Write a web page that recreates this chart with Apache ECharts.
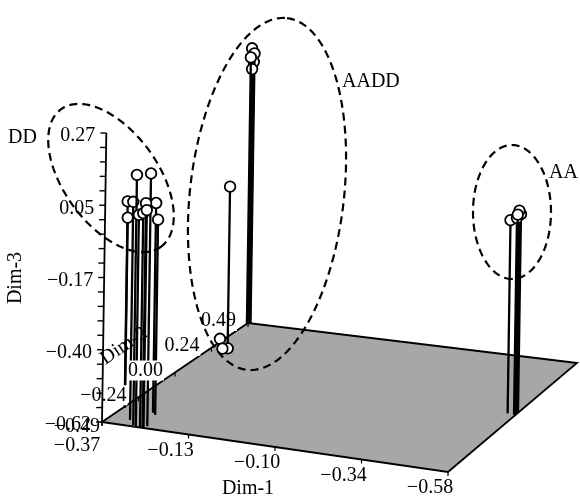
<!DOCTYPE html>
<html><head><meta charset="utf-8">
<script src="https://cdn.jsdelivr.net/npm/echarts@6/dist/echarts.min.js"></script>
<style>html,body{margin:0;padding:0;background:#fff}#c{width:580px;height:497px}</style>
</head><body><div id="c"></div>
<script>
// ---- data ----
const dim1Labels = ['−0.37','−0.13','−0.10','−0.34','−0.58'];
const dim2Labels = ['−0.49','−0.24','0.00','0.24','0.49'];
const dim3Labels = ['−0.62','−0.40','−0.17','0.05','0.27'];
const dim3Range = [-0.62, 0.27];
const groupNames = ['DD','AADD','AA'];
// each point: [Dim-1 (tick-index units), Dim-2 (tick-index units), Dim-3 value]
const ddPoints = [
  [0.00,0.62,0.012],
  [0.02,0.58,-0.034],
  [0.24,0.20,0.052],
  [0.34,0.05,0.150],
  [0.39,0.00,0.033],
  [0.44,0.00,0.040],
  [0.47,0.00,0.072],
  [0.48,0.00,0.051],
  [0.49,0.08,0.158],
  [0.36,0.55,0.026],
  [0.41,0.49,-0.019]
];
const aaddPoints = [
  [0.000,4.00,0.226],
  [0.035,3.99,0.212],
  [0.000,3.97,0.200],
  [0.023,4.00,0.185],
  [0.012,3.98,0.164],
  [0.12,3.17,-0.133],
  [0.00,3.23,-0.610],
  [0.17,2.91,-0.610],
  [0.22,2.94,-0.610]
];
const aaPoints = [
  [3.90,2.11,-0.025],
  [4.00,2.07,-0.001],
  [4.00,2.12,0.007],
  [4.00,2.17,-0.008],
  [3.98,2.10,-0.015]
];

// ---- layout / projection (scene units of a hidden cartesian) ----
const W = 580, H = 497;
const FONT = '20px "Liberation Serif", "Times New Roman", serif';
const corner = {A:[102,422], B:[448,472], C:[577,363], D:[248,323]};
const zSpan = 289, shear = 0.015;
const n1 = dim1Labels.length - 1, n2 = dim2Labels.length - 1;
function floorPt(d1, d2) {
  const u = d1 / n1, v = d2 / n2, A = corner.A, B = corner.B, C = corner.C, D = corner.D;
  return [A[0] + u*(B[0]-A[0]) + v*(D[0]-A[0]) + u*v*(C[0]-B[0]-D[0]+A[0]),
          A[1] + u*(B[1]-A[1]) + v*(D[1]-A[1]) + u*v*(C[1]-B[1]-D[1]+A[1])];
}
function heightOf(d3) { return (d3 - dim3Range[0]) / (dim3Range[1] - dim3Range[0]) * zSpan; }
function proj(d1, d2, d3) { const b = floorPt(d1, d2), h = heightOf(d3); return [b[0] + shear*h, b[1] - h]; }

const ellipses = [
  {cx:111, cy:178, a:85, b:47, rot:54},
  {cx:267, cy:194, a:177, b:77, rot:-83.5},
  {cx:512, cy:212, a:67, b:39, rot:90}
];
const groupLabelPos = [[8,138],[342,82],[549,173]];

function ellipsePts(e) {
  const pts = [], r = e.rot * Math.PI / 180;
  for (let k = 0; k < 160; k++) {
    const t = k / 160 * Math.PI * 2, x = e.a*Math.cos(t), y = e.b*Math.sin(t);
    pts.push([e.cx + x*Math.cos(r) - y*Math.sin(r), e.cy + x*Math.sin(r) + y*Math.cos(r)]);
  }
  return pts;
}
function txt(x, y, text, align, vAlign, extra) {
  return Object.assign({type:'text', x:x, y:y, style:{text:text, font:FONT, fill:'#000', align:align||'center', verticalAlign:vAlign||'middle'}}, extra||{});
}

const chart = echarts.init(document.getElementById('c'));

function axesRender(params, api) {
  const c = p => api.coord(p);
  const ch = [];
  const fp = [floorPt(0,0), floorPt(n1,0), floorPt(n1,n2), floorPt(0,n2)].map(c);
  ch.push({type:'polygon', shape:{points:fp}, style:{fill:'#a7a7a7', stroke:'#000', lineWidth:1.8}});
  dim1Labels.forEach((lab, i) => {
    const p = c(floorPt(i, 0));
    ch.push({type:'line', shape:{x1:p[0], y1:p[1], x2:p[0], y2:p[1]+4}, style:{stroke:'#000', lineWidth:1.2}});
    const off = i === 0 ? [-25, 24] : [-18, 16];
    ch.push(txt(p[0]+off[0], p[1]+off[1], lab));
  });
  dim2Labels.forEach((lab, i) => {
    const p = c(floorPt(0, i));
    ch.push({type:'line', shape:{x1:p[0], y1:p[1], x2:p[0], y2:p[1]+4}, style:{stroke:'#000', lineWidth:1.2}});
  });
  dim3Labels.forEach((lab, i) => {
    const v = dim3Range[0] + i * (dim3Range[1]-dim3Range[0]) / n1;
    const p = c(proj(0, 0, v));
    ch.push(txt(p[0]-11, p[1]+3, lab, 'right'));
  });
  ch.push(txt(248, 489, 'Dim-1'));
  ch.push(txt(16, 278, 'Dim-3', 'center', 'middle', {rotation: Math.PI/2}));
  ch.push(txt(124, 346, 'Dim-2', 'center', 'middle', {rotation: 0.59}));
  return {type:'group', children:ch};
}

function labelsRender(params, api) {
  const c = p => api.coord(p);
  const ch = [];
  dim2Labels.forEach((lab, i) => {
    const p = c(floorPt(0, i));
    if (i === 0) ch.push(txt(p[0]-2, p[1]+5, lab, 'right'));
    else {
      const t = txt(p[0]-11, p[1]-2, lab, 'right');
      t.style.backgroundColor = '#fff'; t.style.padding = [0,1];
      ch.push(t);
    }
  });
  const a0 = c(proj(0,0,dim3Range[0])), a1 = c(proj(0,0,dim3Range[1]));
  ch.push({type:'line', shape:{x1:a0[0], y1:a0[1], x2:a1[0], y2:a1[1]}, style:{stroke:'#000', lineWidth:1.8}});
  const nMinor = 5;
  for (let k = 0; k <= n1*nMinor; k++) {
    const v = dim3Range[0] + k * (dim3Range[1]-dim3Range[0]) / (n1*nMinor);
    const p = c(proj(0,0,v));
    ch.push({type:'line', shape:{x1:p[0]-6, y1:p[1], x2:p[0], y2:p[1]}, style:{stroke:'#000', lineWidth:1.4}});
  }
  return {type:'group', children:ch};
}

function stemRender(params, api) {
  const d1 = api.value(0), d2 = api.value(1), d3 = api.value(2);
  const b = api.coord(floorPt(d1, d2)), t = api.coord(proj(d1, d2, d3));
  return {type:'group', children:[
    {type:'line', shape:{x1:b[0], y1:b[1], x2:t[0], y2:t[1]}, style:{stroke:'#000', lineWidth:2.3}},
    {type:'circle', shape:{cx:t[0], cy:t[1], r:5.3}, style:{fill:'#fff', stroke:'#000', lineWidth:1.8}}
  ]};
}

function annotRender(params, api) {
  const ch = [];
  ellipses.forEach((e, i) => {
    ch.push({type:'polygon', shape:{points:ellipsePts(e).map(p => api.coord(p))},
      style:{fill:'none', stroke:'#000', lineWidth:2.2, lineDash:[8,5]}});
    const lp = api.coord(groupLabelPos[i]);
    ch.push(txt(lp[0], lp[1], groupNames[i], 'left'));
  });
  return {type:'group', children:ch};
}

const sortByDepth = pts => pts.slice().sort((p, q) => floorPt(p[0],p[1])[1] - floorPt(q[0],q[1])[1]);

chart.setOption({
  animation: false,
  backgroundColor: '#fff',
  grid: {left:0, right:0, top:0, bottom:0},
  xAxis: {type:'value', min:0, max:W, show:false},
  yAxis: {type:'value', min:0, max:H, inverse:true, show:false},
  series: [
    {type:'custom', name:'axes', z:1, clip:false, data:[[0,0]], renderItem:axesRender, silent:true},
    {type:'custom', name:groupNames[0], z:2, clip:false, dimensions:['d1','d2','d3'], data:sortByDepth(ddPoints), renderItem:stemRender},
    {type:'custom', name:'labels', z:3, clip:false, data:[[0,0]], renderItem:labelsRender, silent:true},
    {type:'custom', name:groupNames[1], z:4, clip:false, dimensions:['d1','d2','d3'], data:sortByDepth(aaddPoints), renderItem:stemRender},
    {type:'custom', name:groupNames[2], z:4, clip:false, dimensions:['d1','d2','d3'], data:sortByDepth(aaPoints), renderItem:stemRender},
    {type:'custom', name:'annot', z:5, clip:false, data:[[0,0]], renderItem:annotRender, silent:true}
  ]
});
</script></body></html>
